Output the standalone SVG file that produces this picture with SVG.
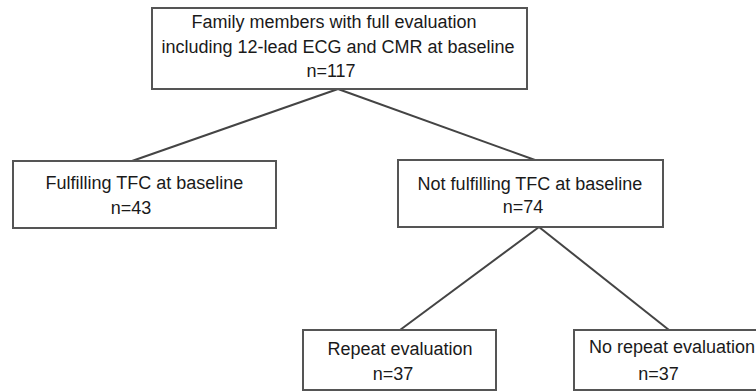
<svg xmlns="http://www.w3.org/2000/svg" width="756" height="391" viewBox="0 0 756 391">
<style>
.box{fill:#fff;stroke:#555;stroke-width:2}
.t{font-family:"Liberation Sans",Arial,sans-serif;font-size:18px;fill:#1a1a1a;text-anchor:middle}
.c{stroke:#444;stroke-width:2;fill:none}
</style>
<rect width="756" height="391" fill="#fff"/>
<g id="connectors">
<line class="c" x1="338" y1="89" x2="132" y2="161"/>
<line class="c" x1="338" y1="89" x2="535" y2="160"/>
<line class="c" x1="539" y1="227" x2="400" y2="330"/>
<line class="c" x1="539" y1="227" x2="669" y2="330"/>
</g>
<g id="n-top">
<rect class="box" x="152" y="8" width="375" height="81"/>
<text class="t" x="334" y="28">Family members with full evaluation</text>
<text class="t" x="338" y="53">including 12-lead ECG and CMR at baseline</text>
<text class="t" x="331" y="77">n=117</text>
</g>
<g id="n-fulfilling">
<rect class="box" x="13" y="161" width="263" height="67"/>
<text class="t" x="144.5" y="189">Fulfilling TFC at baseline</text>
<text class="t" x="131" y="214">n=43</text>
</g>
<g id="n-notfulfilling">
<rect class="box" x="398" y="160" width="265" height="67"/>
<text class="t" x="530" y="190">Not fulfilling TFC at baseline</text>
<text class="t" x="523" y="213">n=74</text>
</g>
<g id="n-repeat">
<rect class="box" x="303" y="330" width="193" height="60"/>
<text class="t" x="400" y="355">Repeat evaluation</text>
<text class="t" x="393" y="380">n=37</text>
</g>
<g id="n-norepeat">
<rect class="box" x="574" y="330" width="200" height="60"/>
<text class="t" x="589" y="353" style="text-anchor:start">No repeat evaluation</text>
<text class="t" x="658.5" y="380">n=37</text>
</g>
</svg>
